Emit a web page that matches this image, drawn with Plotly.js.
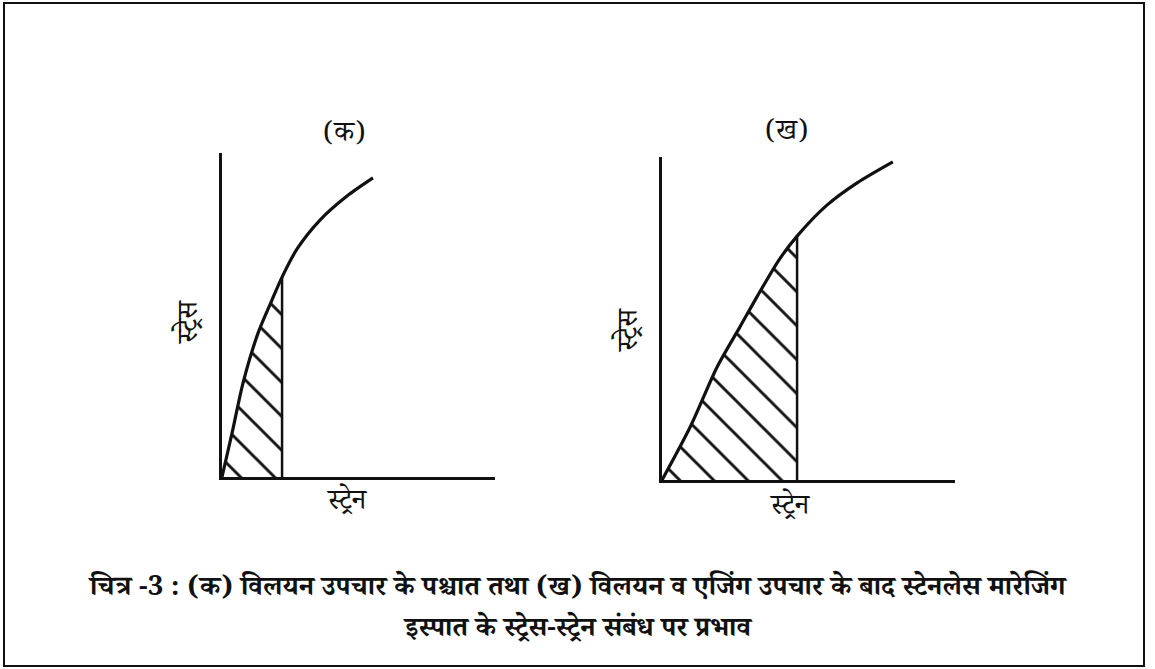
<!DOCTYPE html>
<html>
<head>
<meta charset="utf-8">
<script src="https://cdn.plot.ly/plotly-3.0.1.min.js"></script>
<style>
  body { margin: 0; background: #fff; }
  #chart { width: 1155px; height: 669px; }
</style>
</head>
<body>
<div id="chart"></div>
<script>
// panel (क): after solution treatment
const strainA = [0, 0.37, 0.77, 1.32, 1.83, 2.20, 2.75, 3.59, 4.58, 5.53];
const stressA = [0, 1.36, 2.90, 4.44, 5.46, 6.17, 7.04, 7.93, 8.67, 9.23];
const cutA = 5; // index where the hatched area stops

// panel (ख): after solution + ageing treatment
const strainB = [0, 0.96, 1.88, 2.66, 3.24, 3.99, 4.61, 5.63, 6.66, 7.88];
const stressB = [0, 1.64, 3.50, 4.74, 5.67, 6.81, 7.55, 8.51, 9.20, 9.85];
const cutB = 6;

const panelTitles = ['(क)', '(ख)'];
const xLabel = 'स्ट्रेन';
const yLabel = 'स्ट्रेस';
const captionLines = [
  'चित्र -3 : (क) विलयन उपचार के पश्चात तथा (ख) विलयन व एजिंग उपचार के बाद स्टेनलेस मारेजिंग',
  'इस्पात के स्ट्रेस-स्ट्रेन संबंध पर प्रभाव'
];

const ink = '#111';
const devFont = '"Noto Serif Devanagari", "Noto Sans Devanagari", "Noto Sans", sans-serif';

function panel(xs, ys, cut, xa, ya) {
  return [
    { // hatched area
      x: xs.slice(0, cut + 1), y: ys.slice(0, cut + 1),
      xaxis: xa, yaxis: ya, mode: 'lines', fill: 'tozeroy',
      line: {width: 0, shape: 'spline', smoothing: 0.8},
      fillcolor: 'white',
      fillpattern: {shape: '\\', size: 24, solidity: 0.12, fgcolor: ink, bgcolor: 'white'},
      hoverinfo: 'skip'
    },
    { // vertical drop line
      x: [xs[cut], xs[cut]], y: [0, ys[cut]],
      xaxis: xa, yaxis: ya, mode: 'lines',
      line: {color: ink, width: 2.5}, hoverinfo: 'skip'
    },
    { // stress-strain curve
      x: xs, y: ys, xaxis: xa, yaxis: ya, mode: 'lines',
      line: {color: ink, width: 3.2, shape: 'spline', smoothing: 0.8}
    }
  ];
}

const data = [
  ...panel(strainA, stressA, cutA, 'x', 'y'),
  ...panel(strainB, stressB, cutB, 'x2', 'y2')
];

function ax(domain, anchor) {
  return {
    domain: domain, anchor: anchor, range: [0, 10],
    showline: true, linecolor: ink, linewidth: 3,
    showgrid: false, zeroline: false, showticklabels: false, ticks: ''
  };
}

const layout = {
  width: 1155, height: 669,
  margin: {l: 0, r: 0, t: 0, b: 0},
  paper_bgcolor: 'white', plot_bgcolor: 'white',
  showlegend: false,
  xaxis: ax([0.1922, 0.4286], 'y'),
  yaxis: ax([0.2870, 0.7713], 'x'),
  xaxis2: ax([0.5732, 0.8268], 'y2'),
  yaxis2: ax([0.2825, 0.7653], 'x2'),
  shapes: [
    {type: 'rect', xref: 'paper', yref: 'paper',
     x0: 4 / 1155, x1: 1144 / 1155, y0: 1 - 666 / 669, y1: 1 - 3 / 669,
     line: {color: ink, width: 2}}
  ],
  annotations: [
    {text: panelTitles[0], x: 344 / 1155, y: 1 - 137 / 669},
    {text: panelTitles[1], x: 786 / 1155, y: 1 - 135 / 669},
    {text: xLabel, x: 347 / 1155, y: 1 - 505 / 669},
    {text: xLabel, x: 790 / 1155, y: 1 - 510 / 669},
    {text: yLabel, x: 193 / 1155, y: 1 - 322 / 669, textangle: -90},
    {text: yLabel, x: 633 / 1155, y: 1 - 330 / 669, textangle: -90},
    {text: '<b>' + captionLines[0] + '</b>', x: 0.5, y: 1 - 590 / 669,
     font: {family: devFont, size: 27.5, color: ink}},
    {text: '<b>' + captionLines[1] + '</b>', x: 0.5, y: 1 - 631 / 669,
     font: {family: devFont, size: 27.5, color: ink}}
  ].map(a => Object.assign({
    xref: 'paper', yref: 'paper', showarrow: false,
    xanchor: 'center', yanchor: 'middle',
    font: {family: devFont, size: 28, color: ink}
  }, a))
};

Plotly.newPlot('chart', data, layout, {displayModeBar: false, staticPlot: true});
</script>
</body>
</html>
